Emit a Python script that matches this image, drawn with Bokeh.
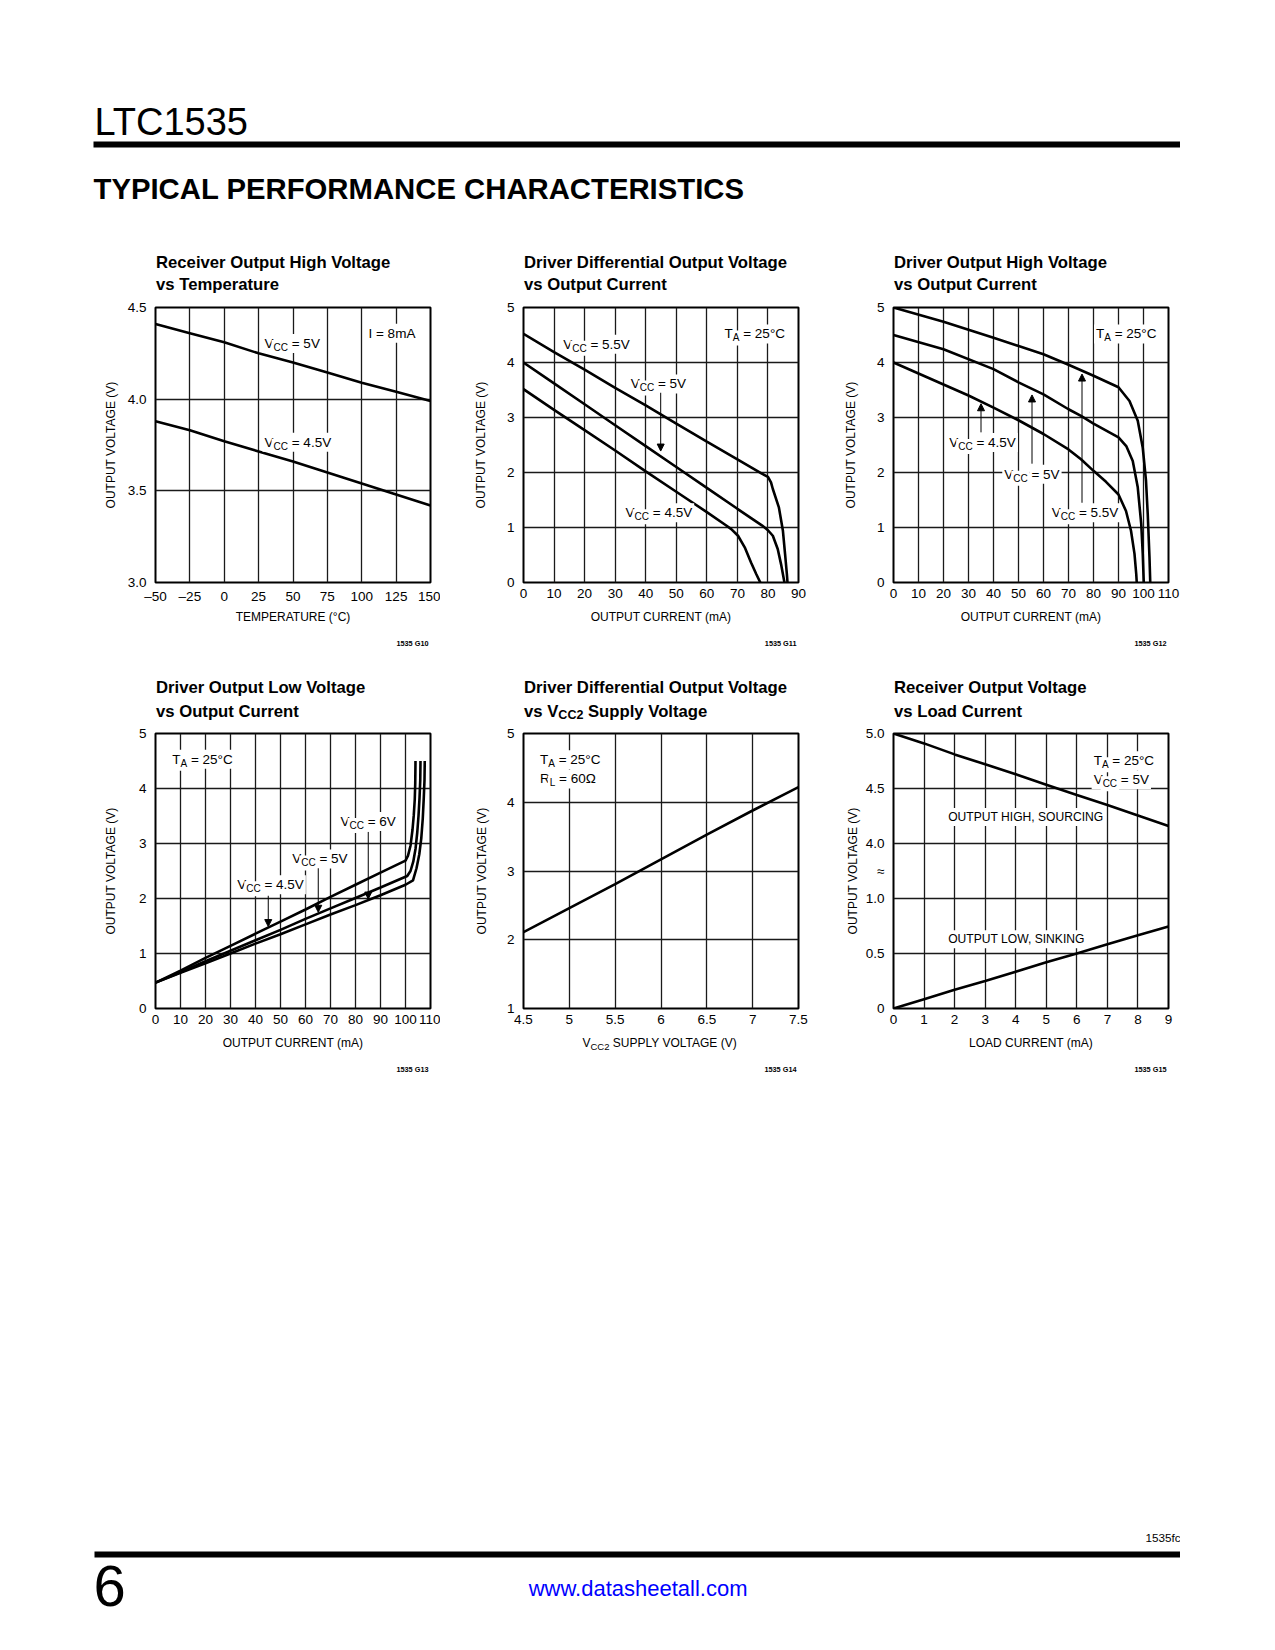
import numpy as np
from bokeh.plotting import figure
from bokeh.models import Range1d, FixedTicker, Label, Arrow, NormalHead, BoxAnnotation
from bokeh.layouts import column, row
from bokeh.embed import file_html
from bokeh.resources import INLINE

# ---------------- data ----------------
# 1: Receiver output high voltage vs temperature
temp_c = [-50, -25, 0, 25, 50, 75, 100, 125, 150]
voh_vcc5 = [4.41, 4.36, 4.31, 4.25, 4.20, 4.145, 4.09, 4.04, 3.99]
voh_vcc45 = [3.88, 3.83, 3.77, 3.715, 3.66, 3.60, 3.54, 3.48, 3.42]
c1_xticks = [-50, -25, 0, 25, 50, 75, 100, 125, 150]
c1_xlabels = ["\u201350", "\u201325", "0", "25", "50", "75", "100", "125", "150"]
c1_yticks = [3.0, 3.5, 4.0, 4.5]
c1_ylabels = ["3.0", "3.5", "4.0", "4.5"]

# 2: Driver differential output voltage vs output current
dd_i_55 = [0, 10, 20, 30, 40, 50, 60, 70, 78, 80, 81, 81.6, 83.6, 84.9, 85.6, 86.2, 86.4]
dd_v_55 = [4.52, 4.19, 3.87, 3.54, 3.22, 2.89, 2.56, 2.24, 1.98, 1.92, 1.82, 1.70, 1.36, 0.94, 0.52, 0.15, 0.0]
dd_i_5 = [0, 10, 20, 30, 40, 50, 60, 70, 78, 80, 81.6, 83.2, 84.3, 85.1, 85.4]
dd_v_5 = [4.0, 3.62, 3.24, 2.86, 2.48, 2.10, 1.72, 1.34, 1.04, 0.95, 0.85, 0.61, 0.33, 0.09, 0.0]
dd_i_45 = [0, 10, 20, 30, 40, 50, 60, 66, 68, 70.2, 72.4, 74.5, 76.2, 77.5]
dd_v_45 = [3.515, 3.14, 2.77, 2.40, 2.02, 1.65, 1.28, 1.05, 0.97, 0.85, 0.64, 0.36, 0.15, 0.0]
c2_xticks = [0, 10, 20, 30, 40, 50, 60, 70, 80, 90]
c2_yticks = [0, 1, 2, 3, 4, 5]

# 3: Driver output high voltage vs output current
oh_i_55 = [0, 20, 40, 60, 70, 80, 90, 94.4, 97.7, 99.7, 101.0, 101.7, 102.4, 102.7]
oh_v_55 = [5.0, 4.74, 4.45, 4.15, 3.96, 3.76, 3.55, 3.30, 2.94, 2.45, 1.85, 1.24, 0.45, 0.0]
oh_i_5 = [0, 20, 40, 50, 60, 70, 75, 80, 90, 93.1, 95.7, 97.7, 99.1, 99.7, 100.1]
oh_v_5 = [4.5, 4.24, 3.88, 3.64, 3.42, 3.15, 3.03, 2.89, 2.64, 2.48, 2.21, 1.73, 1.06, 0.52, 0.0]
oh_i_45 = [0, 10, 20, 30, 40, 50, 60, 70, 75, 80, 85, 90, 93, 95, 96.4, 97.1, 97.3]
oh_v_45 = [4.0, 3.8, 3.6, 3.4, 3.18, 2.95, 2.70, 2.42, 2.24, 2.03, 1.83, 1.60, 1.30, 0.94, 0.52, 0.15, 0.0]
c3_xticks = [0, 10, 20, 30, 40, 50, 60, 70, 80, 90, 100, 110]
c3_yticks = [0, 1, 2, 3, 4, 5]

# 4: Driver output low voltage vs output current
ol_i_45 = [0, 10, 20, 30, 40, 50, 60, 70, 80, 90, 100, 101, 102, 102.8, 103.3, 103.7, 103.9, 104]
ol_v_45 = [0.47, 0.69, 0.92, 1.14, 1.36, 1.58, 1.80, 2.03, 2.25, 2.47, 2.69, 2.78, 2.96, 3.25, 3.51, 3.80, 4.10, 4.5]
ol_i_5 = [0, 10, 20, 30, 40, 50, 60, 70, 80, 90, 100.7, 102, 103.1, 104, 104.7, 105.2, 105.6, 105.9, 106]
ol_v_5 = [0.47, 0.66, 0.86, 1.05, 1.24, 1.43, 1.63, 1.82, 2.01, 2.20, 2.41, 2.50, 2.67, 2.90, 3.20, 3.50, 3.82, 4.15, 4.5]
ol_i_6 = [0, 10, 20, 30, 40, 50, 60, 70, 80, 90, 100, 103, 104.4, 105.5, 106.3, 106.9, 107.3, 107.6, 107.7]
ol_v_6 = [0.47, 0.65, 0.82, 1.0, 1.18, 1.35, 1.53, 1.71, 1.88, 2.06, 2.25, 2.33, 2.55, 2.80, 3.09, 3.45, 3.82, 4.15, 4.5]
c4_xticks = [0, 10, 20, 30, 40, 50, 60, 70, 80, 90, 100, 110]
c4_yticks = [0, 1, 2, 3, 4, 5]

# 5: Driver differential output voltage vs VCC2
vcc2_v = [4.5, 5.0, 5.5, 6.0, 6.5, 7.0, 7.5]
vod_v = [2.11, 2.46, 2.81, 3.17, 3.53, 3.88, 4.22]
c5_xticks = [4.5, 5.0, 5.5, 6.0, 6.5, 7.0, 7.5]
c5_xlabels = ["4.5", "5", "5.5", "6", "6.5", "7", "7.5"]
c5_yticks = [1, 2, 3, 4, 5]

# 6: Receiver output voltage vs load current (broken y axis)
load_ma = [0, 1, 2, 3, 4, 5, 6, 7, 8, 9]
vout_high = [5.0, 4.91, 4.81, 4.72, 4.63, 4.535, 4.44, 4.35, 4.255, 4.16]
vout_low = [0.0, 0.085, 0.17, 0.25, 0.335, 0.42, 0.50, 0.585, 0.665, 0.745]
c6_xticks = [0, 1, 2, 3, 4, 5, 6, 7, 8, 9]
c6_yvals = [0.0, 0.5, 1.0, 4.0, 4.5, 5.0]
c6_ylabels = ["0", "0.5", "1.0", "4.0", "4.5", "5.0"]

# ---------------- styling helpers ----------------
SANS = "Liberation Sans"
TICK_FS = "13.5px"
LAB_FS = 13.5
SUB_FS = 10
PAD = 2

AW = {'V': .667, 'C': .722, ' ': .278, '=': .584, '.': .278, 'T': .611, 'A': .667, '\u00b0': .4,
      'R': .722, 'L': .556, '\u03a9': .768, 'I': .278, 'm': .833, 'a': .556, 'S': .667, 'U': .722,
      'P': .667, 'Y': .667, 'O': .778, 'G': .778, 'E': .667, '(': .333, ')': .333, 'H': .722,
      'N': .722, ',': .278, 'K': .667}
AWB = {'v': .556, 's': .556, ' ': .278, 'V': .667, 'C': .722, 'S': .667, 'u': .611, 'p': .611,
       'l': .278, 'y': .556, 'o': .611, 't': .333, 'a': .556, 'g': .611, 'e': .556}


def twidth(s, fs, bold=False):
    tab = AWB if bold else AW
    return sum(tab.get(c, .556) for c in s) * fs


def rich(p, x, y, parts, size=LAB_FS, subsize=SUB_FS, bold=False, bg=True, xo=0.0, yo=0.0,
         drop=4.0, align="left"):
    total = sum(twidth(t, subsize if s else size, bold) for t, s in parts)
    off = -total / 2 if align == "center" else 0.0
    for txt, is_sub in parts:
        fs = subsize if is_sub else size
        body = txt.lstrip(" ")
        off += twidth(txt[:len(txt) - len(body)], fs, bold)
        if bg:
            kw = dict(background_fill_color="white", background_fill_alpha=1.0, padding=PAD)
            shift = -PAD
        else:
            kw, shift = {}, 0.0
        p.add_layout(Label(x=x, y=y, x_offset=xo + off + shift, y_offset=yo - (drop if is_sub else 0),
                           text=body, text_font=SANS, text_font_size=f"{fs}px",
                           text_font_style="bold" if bold else "normal",
                           text_baseline="middle", text_align="left", text_color="black", **kw))
        off += twidth(body, fs, bold)


def vcc(p, x, y, val):
    rich(p, x, y, [("V", False), ("CC", True), (" = " + val, False)])


def arrow(p, x, y0, y1):
    p.add_layout(Arrow(end=NormalHead(size=7, fill_color="black", line_color="black", line_width=1),
                       x_start=x, y_start=y0, x_end=x, y_end=y1, line_color="black", line_width=1))


def chart(xr, yr, xticks, xlabels, yticks, ylabels, bl, br, ystand, gridy=None):
    p = figure(frame_width=275, frame_height=275, x_range=Range1d(*xr), y_range=Range1d(*yr),
               output_backend="svg", toolbar_location=None,
               min_border_left=bl, min_border_right=br, min_border_top=10, min_border_bottom=24,
               background_fill_color="white", border_fill_color="white")
    p.outline_line_color = "black"
    p.outline_line_width = 2
    p.outline_line_alpha = 1.0
    p.xaxis.ticker = FixedTicker(ticks=xticks)
    p.yaxis.ticker = FixedTicker(ticks=yticks)
    p.xaxis.major_label_overrides = {t: l for t, l in zip(xticks, xlabels)}
    p.yaxis.major_label_overrides = {t: l for t, l in zip(yticks, ylabels)}
    p.xgrid.ticker = FixedTicker(ticks=xticks)
    p.ygrid.ticker = FixedTicker(ticks=gridy if gridy is not None else yticks)
    for g in (p.xgrid[0], p.ygrid[0]):
        g.grid_line_color = "#1a1a1a"
        g.grid_line_width = 1.3
        g.grid_line_alpha = 1.0
    for ax in (p.xaxis[0], p.yaxis[0]):
        ax.axis_line_color = None
        ax.major_tick_line_color = None
        ax.minor_tick_line_color = None
        ax.major_tick_in = 0
        ax.major_tick_out = 0
        ax.minor_tick_in = 0
        ax.minor_tick_out = 0
        ax.major_label_text_font = SANS
        ax.major_label_text_font_size = TICK_FS
        ax.major_label_text_color = "black"
        ax.axis_label_text_font = SANS
        ax.axis_label_text_font_size = "12px"
        ax.axis_label_text_font_style = "normal"
        ax.axis_label_text_color = "black"
    p.xaxis.major_label_standoff = 6
    p.yaxis.major_label_standoff = 9
    p.yaxis.axis_label = "OUTPUT VOLTAGE (V)"
    p.yaxis.axis_label_standoff = ystand
    return p


LW = 2.6

# ---- chart 1
c1 = chart((-50, 150), (3.0, 4.5), c1_xticks, c1_xlabels, c1_yticks, c1_ylabels, 155, 10, 7)
c1.line(temp_c, voh_vcc5, line_width=LW, color="black")
c1.line(temp_c, voh_vcc45, line_width=LW, color="black")
vcc(c1, 29.3, 4.304, "5V")
vcc(c1, 29.3, 3.765, "4.5V")
rich(c1, 104.9, 4.36, [("I = 8mA", False)])

# ---- chart 2
c2 = chart((0, 90), (0, 5), c2_xticks, [str(t) for t in c2_xticks], c2_yticks,
           [str(t) for t in c2_yticks], 83, 12, 16)
c2.line(dd_i_55, dd_v_55, line_width=LW, color="black")
c2.line(dd_i_5, dd_v_5, line_width=LW, color="black")
c2.line(dd_i_45, dd_v_45, line_width=LW, color="black")
vcc(c2, 13.0, 4.33, "5.5V")
vcc(c2, 35.1, 3.61, "5V")
arrow(c2, 44.9, 3.45, 2.39)
vcc(c2, 33.4, 1.27, "4.5V")
rich(c2, 65.8, 4.52, [("T", False), ("A", True), (" = 25\u00b0C", False)])

# ---- chart 3
c3 = chart((0, 110), (0, 5), c3_xticks, [str(t) for t in c3_xticks], c3_yticks,
           [str(t) for t in c3_yticks], 83, 12, 16)
c3.line(oh_i_55, oh_v_55, line_width=LW, color="black")
c3.line(oh_i_5, oh_v_5, line_width=LW, color="black")
c3.line(oh_i_45, oh_v_45, line_width=LW, color="black")
arrow(c3, 35.0, 2.73, 3.25)
arrow(c3, 55.4, 2.16, 3.41)
arrow(c3, 75.4, 1.45, 3.79)
vcc(c3, 22.3, 2.545, "4.5V")
vcc(c3, 44.3, 1.97, "5V")
vcc(c3, 63.3, 1.27, "5.5V")
rich(c3, 81.0, 4.52, [("T", False), ("A", True), (" = 25\u00b0C", False)])

# ---- chart 4
c4 = chart((0, 110), (0, 5), c4_xticks, [str(t) for t in c4_xticks], c4_yticks,
           [str(t) for t in c4_yticks], 155, 10, 18)
c4.line(ol_i_45, ol_v_45, line_width=LW, color="black")
c4.line(ol_i_5, ol_v_5, line_width=LW, color="black")
c4.line(ol_i_6, ol_v_6, line_width=LW, color="black")
rich(c4, 6.7, 4.53, [("T", False), ("A", True), (" = 25\u00b0C", False)])
vcc(c4, 74.0, 3.40, "6V")
arrow(c4, 85.1, 3.21, 1.99)
vcc(c4, 54.7, 2.72, "5V")
arrow(c4, 65.1, 2.55, 1.75)
vcc(c4, 32.7, 2.25, "4.5V")
arrow(c4, 45.1, 2.05, 1.49)

# ---- chart 5
c5 = chart((4.5, 7.5), (1, 5), c5_xticks, c5_xlabels, c5_yticks, [str(t) for t in c5_yticks],
           83, 12, 15)
c5.line(vcc2_v, vod_v, line_width=LW, color="black")
rich(c5, 4.68, 4.62, [("T", False), ("A", True), (" = 25\u00b0C", False)])
rich(c5, 4.68, 4.34, [("R", False), ("L", True), (" = 60\u03a9", False)])


# ---- chart 6 (broken axis: 0-1 V and 4-5 V each mapped to equal bands)
def brk(v):
    v = np.asarray(v, dtype=float)
    return np.where(v <= 1.0, v * 2.0, (v - 4.0) * 2.0 + 3.0)


c6_grid = [float(t) for t in brk(c6_yvals)]
c6_yticks = c6_grid + [2.5]
c6 = chart((0, 9), (0, 5), c6_xticks, [str(t) for t in c6_xticks], c6_yticks,
           c6_ylabels + ["\u2248"], 83, 12, 3, gridy=c6_grid)
c6.line(load_ma, brk(vout_high), line_width=LW, color="black")
c6.line(load_ma, brk(vout_low), line_width=LW, color="black")
rich(c6, 6.55, 4.505, [("T", False), ("A", True), (" = 25\u00b0C", False)])
rich(c6, 6.55, 4.16, [("V", False), ("CC", True), (" = 5V", False)])
rich(c6, 1.79, 3.48, [("OUTPUT HIGH, SOURCING", False)], size=12.1)
rich(c6, 1.79, 1.26, [("OUTPUT LOW, SINKING", False)], size=12.1)

# ---------------- page strips (coordinates = page pixels) ----------------
PAGE_W = 1180
FRAME_L = [155, 523, 893]
FRAME_R = [430, 798, 1168]
FRAME_C = [(a + b) / 2 for a, b in zip(FRAME_L, FRAME_R)]


def page_fig(y0, h):
    f = figure(width=PAGE_W, height=h, x_range=Range1d(0, PAGE_W), y_range=Range1d(y0 + h, y0),
               output_backend="svg", toolbar_location=None, x_axis_type=None, y_axis_type=None,
               min_border=0, background_fill_color="white", border_fill_color="white")
    f.outline_line_color = None
    f.grid.visible = False
    return f


def plain(f, x, y, text, size, bold=False, align="left", color="black"):
    f.add_layout(Label(x=x, y=y, text=text, text_font=SANS, text_font_size=f"{size}px",
                       text_font_style="bold" if bold else "normal", text_align=align,
                       text_baseline="middle", text_color=color))


TITLE_FS = 16.7

# top strip: page header + titles of row 1
top = page_fig(0, 297)
plain(top, 94, 121.5, "LTC1535", 38)
top.add_layout(BoxAnnotation(left=93, right=1180, top=141, bottom=147, fill_color="black",
                             fill_alpha=1.0, line_color=None))
plain(top, 93, 187.5, "TYPICAL PERFORMANCE CHARACTERISTICS", 29.3, bold=True)
row1_titles = [("Receiver Output High Voltage", "vs Temperature"),
               ("Driver Differential Output Voltage", "vs Output Current"),
               ("Driver Output High Voltage", "vs Output Current")]
for xl, (t1, t2) in zip(FRAME_L, row1_titles):
    plain(top, xl + 0.5, 262, t1, TITLE_FS, bold=True)
    plain(top, xl + 0.5, 284, t2, TITLE_FS, bold=True)

# middle strip: x labels + ids of row 1, titles of row 2
mid = page_fig(606, 117)
for xc, lab in zip(FRAME_C, ["TEMPERATURE (\u00b0C)", "OUTPUT CURRENT (mA)", "OUTPUT CURRENT (mA)"]):
    plain(mid, xc, 616.5, lab, 12, align="center")
for xr_, gid in zip(FRAME_R, ["1535 G10", "1535 G11", "1535 G12"]):
    plain(mid, xr_ - 2, 643, gid, 7.3, bold=True, align="right")
plain(mid, FRAME_L[0] + 0.5, 687.3, "Driver Output Low Voltage", TITLE_FS, bold=True)
plain(mid, FRAME_L[0] + 0.5, 710.7, "vs Output Current", TITLE_FS, bold=True)
plain(mid, FRAME_L[1] + 0.5, 687.3, "Driver Differential Output Voltage", TITLE_FS, bold=True)
rich(mid, FRAME_L[1] + 0.5, 710.7, [("vs V", False), ("CC2", True), (" Supply Voltage", False)],
     size=TITLE_FS, subsize=12.5, bold=True, bg=False, drop=3.5)
plain(mid, FRAME_L[2] + 0.5, 687.3, "Receiver Output Voltage", TITLE_FS, bold=True)
plain(mid, FRAME_L[2] + 0.5, 710.7, "vs Load Current", TITLE_FS, bold=True)

# bottom strip: x labels + ids of row 2, page footer
bot = page_fig(1032, 608)
plain(bot, FRAME_C[0], 1042.5, "OUTPUT CURRENT (mA)", 12, align="center")
rich(bot, FRAME_C[1], 1042.5, [("V", False), ("CC2", True), (" SUPPLY VOLTAGE (V)", False)],
     size=12, subsize=9.5, bg=False, drop=3.5, align="center")
plain(bot, FRAME_C[2], 1042.5, "LOAD CURRENT (mA)", 12, align="center")
for xr_, gid in zip(FRAME_R, ["1535 G13", "1535 G14", "1535 G15"]):
    plain(bot, xr_ - 2, 1069, gid, 7.3, bold=True, align="right")
plain(bot, 1180, 1537, "1535fc", 11.7, align="right")
bot.add_layout(BoxAnnotation(left=94, right=1180, top=1551, bottom=1557, fill_color="black",
                             fill_alpha=1.0, line_color=None))
plain(bot, 93, 1585, "6", 58)
plain(bot, 637.6, 1588, "www.datasheetall.com", 22, align="center", color="#0000ff")

layout = column(top, row(c1, c2, c3, spacing=0), mid, row(c4, c5, c6, spacing=0), bot, spacing=0)

with open("out.html", "w") as fh:
    fh.write(file_html(layout, INLINE, title="LTC1535 Typical Performance Characteristics"))
